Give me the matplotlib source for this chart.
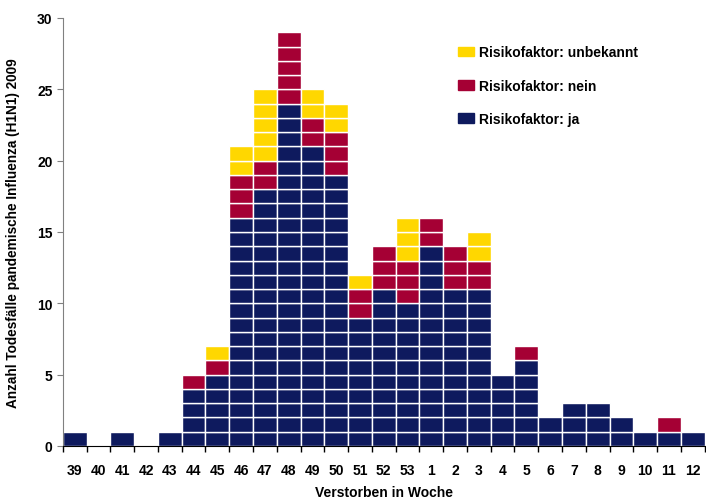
import matplotlib
matplotlib.use('Agg')
import matplotlib.pyplot as plt
from matplotlib.patches import Patch

plt.rcParams['font.family'] = ['Liberation Sans', 'DejaVu Sans']

# Kalenderwochen 2009/2010
wochen = ['39', '40', '41', '42', '43', '44', '45', '46', '47', '48', '49', '50', '51', '52', '53',
          '1', '2', '3', '4', '5', '6', '7', '8', '9', '10', '11', '12']
ja = [1, 0, 1, 0, 1, 4, 5, 16, 18, 24, 21, 19, 9, 11, 10, 14, 11, 11, 5, 6, 2, 3, 3, 2, 1, 1, 1]
nein = [0, 0, 0, 0, 0, 1, 1, 3, 2, 5, 2, 3, 2, 3, 3, 2, 3, 2, 0, 1, 0, 0, 0, 0, 0, 1, 0]
unbekannt = [0, 0, 0, 0, 0, 0, 1, 2, 5, 0, 2, 2, 1, 0, 3, 0, 0, 2, 0, 0, 0, 0, 0, 0, 0, 0, 0]

c_ja = '#0E1A5E'
c_nein = '#A50034'
c_unb = '#FFD700'

fig = plt.figure(figsize=(7.06, 5.02), dpi=100)
ax = fig.add_axes([0.089, 0.1096, 0.909, 0.8526])

# jede Person als eigene Zelle zeichnen
for i in range(len(wochen)):
    stufe = 0
    for anzahl, farbe in [(ja[i], c_ja), (nein[i], c_nein), (unbekannt[i], c_unb)]:
        for k in range(anzahl):
            ax.bar(i, 1, bottom=stufe, width=1.0, color=farbe, edgecolor='white', linewidth=1.0)
            stufe += 1

ax.set_xlim(-0.5, len(wochen) - 0.5)
ax.set_ylim(0, 30)
ax.set_yticks(range(0, 31, 5))
ax.set_xticks(range(len(wochen)))
ax.set_xticklabels(wochen, fontsize=10, fontweight='bold')
ax.set_xticks([i - 0.5 for i in range(len(wochen) + 1)], minor=True)
ax.tick_params(axis='x', which='major', length=0, pad=12)
ax.tick_params(axis='x', which='minor', length=4, width=1, color='black', direction='out')
ax.tick_params(axis='y', length=4, color='#808080', labelsize=10)
for lab in ax.get_yticklabels():
    lab.set_fontweight('bold')

ax.spines['top'].set_visible(False)
ax.spines['right'].set_visible(False)
ax.spines['left'].set_color('#808080')
ax.spines['bottom'].set_color('black')

ax.set_xlabel('Verstorben in Woche', fontsize=10, fontweight='bold', labelpad=6)
ax.set_ylabel('Anzahl Todesfälle pandemische Influenza (H1N1) 2009', fontsize=9.8,
              fontweight='bold', labelpad=12)

handles = [Patch(color=c_unb, label='Risikofaktor: unbekannt'),
           Patch(color=c_nein, label='Risikofaktor: nein'),
           Patch(color=c_ja, label='Risikofaktor: ja')]
leg = ax.legend(handles=handles, loc='upper left', bbox_to_anchor=(0.597, 0.965), frameon=False,
                handlelength=1.1, handleheight=0.7, handletextpad=0.4, labelspacing=1.38,
                prop={'size': 10, 'weight': 'bold'})

fig.savefig('out.png', dpi=100)
